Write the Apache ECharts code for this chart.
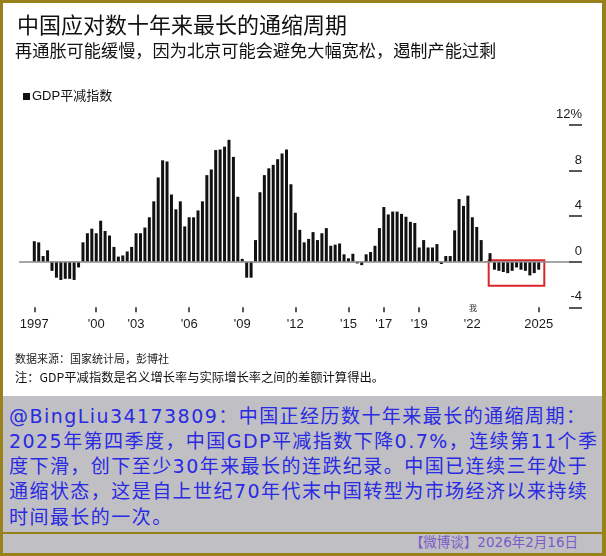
<!DOCTYPE html>
<html lang="zh">

<head>
    <meta charset="UTF-8">
    <title>GDP平减指数</title>
    <script src="https://cdnjs.cloudflare.com/ajax/libs/echarts/6.0.0/echarts.min.js"></script>
    <style>
        body {
            margin: 0;
        }

        #page {
            position: relative;
            width: 606px;
            height: 556px;
            background: #98801a;
            overflow: hidden;
        }

        #paper {
            position: absolute;
            left: 3px;
            top: 3px;
            width: 599px;
            height: 393px;
            background: #fff;
        }

        #main {
            position: absolute;
            left: 0;
            top: 0;
            width: 606px;
            height: 396px;
        }

        #note {
            position: absolute;
            left: 3px;
            top: 396px;
            width: 599px;
            height: 157px;
            background: #c0c0c4;
        }

        #note .txt {
            position: absolute;
            left: 6px;
            top: 7.5px;
            color: #2a2ae2;
            font-family: "DejaVu Sans", "Noto Sans CJK SC", sans-serif;
            font-size: 19px;
            letter-spacing: 1.45px;
            line-height: 25.3px;
            white-space: nowrap;
        }

        #note .sep {
            position: absolute;
            left: 0;
            top: 136px;
            width: 599px;
            height: 2px;
            background: #98801a;
        }

        #note .date {
            position: absolute;
            right: 24px;
            top: 138px;
            line-height: 16px;
            font-size: 13.5px;
            font-family: "DejaVu Sans", "Noto Sans CJK SC", sans-serif;
            color: #7a5cc8;
        }
    </style>
</head>

<body>
    <div id="page">
        <div id="paper"></div>
        <div id="main"></div>
        <div id="note">
            <div class="txt" id="noteText"></div>
            <div class="sep"></div>
            <div class="date" id="noteDate"></div>
        </div>
    </div>
    <script>
        // 文字
        const title = "中国应对数十年来最长的通缩周期";
        const subtitle = "再通胀可能缓慢，因为北京可能会避免大幅宽松，遏制产能过剩";
        const seriesName = "GDP平减指数";
        const sourceText = "数据来源：国家统计局，彭博社";
        const footText = "注：GDP平减指数是名义增长率与实际增长率之间的差额计算得出。";
        const noteLines = [
            "@BingLiu34173809：中国正经历数十年来最长的通缩周期：",
            "2025年第四季度，中国GDP平减指数下降0.7%，连续第11个季",
            "度下滑，创下至少30年来最长的连跌纪录。中国已连续三年处于",
            "通缩状态，这是自上世纪70年代末中国转型为市场经济以来持续",
            "时间最长的一次。"
        ];
        const noteDate = "【微博谈】2026年2月16日";

        // 季度数据 1997Q2 - 2025Q4 (%)
        const deflator = [
            1.8, 1.7, 0.5, 1.0,
            -0.8, -1.4, -1.6, -1.5,
            -1.5, -1.6, -0.5, 1.7,
            2.5, 2.9, 2.5, 3.6,
            2.7, 2.3, 1.3, 0.45,
            0.55, 0.9, 1.3, 2.5,
            2.5, 3.0, 3.9, 5.3,
            7.4, 8.9, 8.8, 5.9,
            4.6, 5.3, 3.1, 3.9,
            3.9, 4.5, 5.3, 7.6,
            8.1, 9.8, 9.85, 10.1,
            10.7, 9.2, 5.7, 0.25,
            -1.4, -1.4, 1.9, 6.1,
            7.6, 8.2, 8.5, 9.0,
            9.5, 9.85, 6.8, 4.3,
            2.8, 1.7, 2.0, 2.6,
            1.9, 2.5, 2.95, 1.4,
            1.5, 1.6, 0.65, 0.3,
            0.7, -0.15, -0.3, 0.65,
            0.85, 1.4, 2.95, 4.8,
            4.15, 4.4, 4.4, 4.2,
            3.95, 3.5, 3.4, 1.25,
            1.9, 1.25, 1.25, 1.55,
            -0.2, 0.5, 0.5, 2.75,
            5.5, 4.9, 5.8, 3.9,
            3.05, 1.9, 0.05, 0.75,
            -0.7, -0.8, -0.9, -1.0,
            -0.8, -0.5, -0.7, -0.8,
            -1.2, -1.0, -0.7
        ];

        // x轴刻度 (季度序号) 和标签
        const tickPos = [0, 14, 23, 35, 47, 59, 71, 79, 87, 99, 114];
        const tickLabels = ["1997", "'00", "'03", "'06", "'09", "'12", "'15", "'17", "'19", "'22", "2025"];

        document.getElementById("noteText").innerHTML = noteLines.join("<br>");
        document.getElementById("noteDate").innerText = noteDate;

        const chart = echarts.init(document.getElementById("main"));
        const cjk = '"Noto Sans CJK SC", sans-serif';
        const latin = '"Liberation Sans", Arial, sans-serif';

        // 红框: 最后一段连续负值
        let runStart = deflator.length - 1;
        while (runStart > 0 && deflator[runStart - 1] < 0) runStart--;
        const runEnd = deflator.length - 1;

        const option = {
            animation: false,
            backgroundColor: "transparent",
            graphic: [
                { type: "text", x: 17, y: 25, style: { text: title, font: "22px " + cjk, fill: "#111", verticalAlign: "middle" } },
                { type: "text", x: 15, y: 50, style: { text: subtitle, font: "17.2px " + cjk, fill: "#111", verticalAlign: "middle" } },
                { type: "text", x: 15, y: 359, style: { text: sourceText, font: "11px " + cjk, fill: "#222", verticalAlign: "middle" } },
                { type: "text", x: 15, y: 377, style: { text: footText, font: "12.3px " + cjk, fill: "#111", verticalAlign: "middle" } },
                { type: "text", x: 473, y: 308, style: { text: "我", font: "8px " + cjk, fill: "#333", align: "center", verticalAlign: "middle" } }
            ],
            legend: {
                data: [seriesName],
                left: 18,
                top: 85,
                icon: "rect",
                itemWidth: 7,
                itemHeight: 7,
                itemGap: 4,
                textStyle: { fontSize: 13, color: "#111", fontFamily: '"Liberation Sans", "Noto Sans CJK SC"', padding: [0, 0, 0, -3] }
            },
            grid: { left: 19, right: 37, top: 125, bottom: 88.7 },
            xAxis: {
                type: "value",
                min: -3.458,
                max: 120.85,
                splitLine: { show: false },
                axisLine: { show: false, onZero: false },
                axisTick: {
                    show: true,
                    length: 5,
                    customValues: tickPos.filter((p, i) => tickLabels[i] !== "'22"),
                    lineStyle: { color: "#222", width: 1.5 }
                },
                axisLabel: {
                    customValues: tickPos,
                    margin: 11,
                    fontSize: 13,
                    color: "#1a1a1a",
                    fontFamily: latin,
                    formatter: (v) => {
                        const i = tickPos.indexOf(Math.round(v));
                        return i >= 0 ? tickLabels[i] : "";
                    }
                }
            },
            yAxis: {
                type: "value",
                position: "right",
                min: -4,
                max: 12,
                interval: 4,
                splitLine: { show: false },
                axisLine: { show: false, onZero: false },
                axisTick: { show: true, length: 13, lineStyle: { color: "#222", width: 1.5 } },
                axisLabel: {
                    margin: 13,
                    align: "right",
                    verticalAlign: "bottom",
                    padding: [0, 0, 4, 0],
                    fontSize: 13,
                    color: "#1a1a1a",
                    fontFamily: latin,
                    formatter: (v) => (v === 12 ? "12%" : String(v))
                }
            },
            series: [
                {
                    name: seriesName,
                    type: "bar",
                    barWidth: 3,
                    data: deflator.map((v, i) => [i, v]),
                    itemStyle: { color: "#111" },
                    markLine: {
                        silent: true,
                        symbol: "none",
                        label: { show: false },
                        lineStyle: { color: "#8a8a8a", width: 1.5, type: "solid" },
                        data: [{ yAxis: 0 }]
                    },
                    markArea: {
                        silent: true,
                        itemStyle: { color: "rgba(0,0,0,0)", borderColor: "#d8262b", borderWidth: 2 },
                        data: [[{ coord: [runStart - 1.3, 0.12] }, { coord: [runEnd + 1.27, -2.1] }]]
                    }
                }
            ]
        };

        chart.setOption(option);
    </script>
</body>

</html>
